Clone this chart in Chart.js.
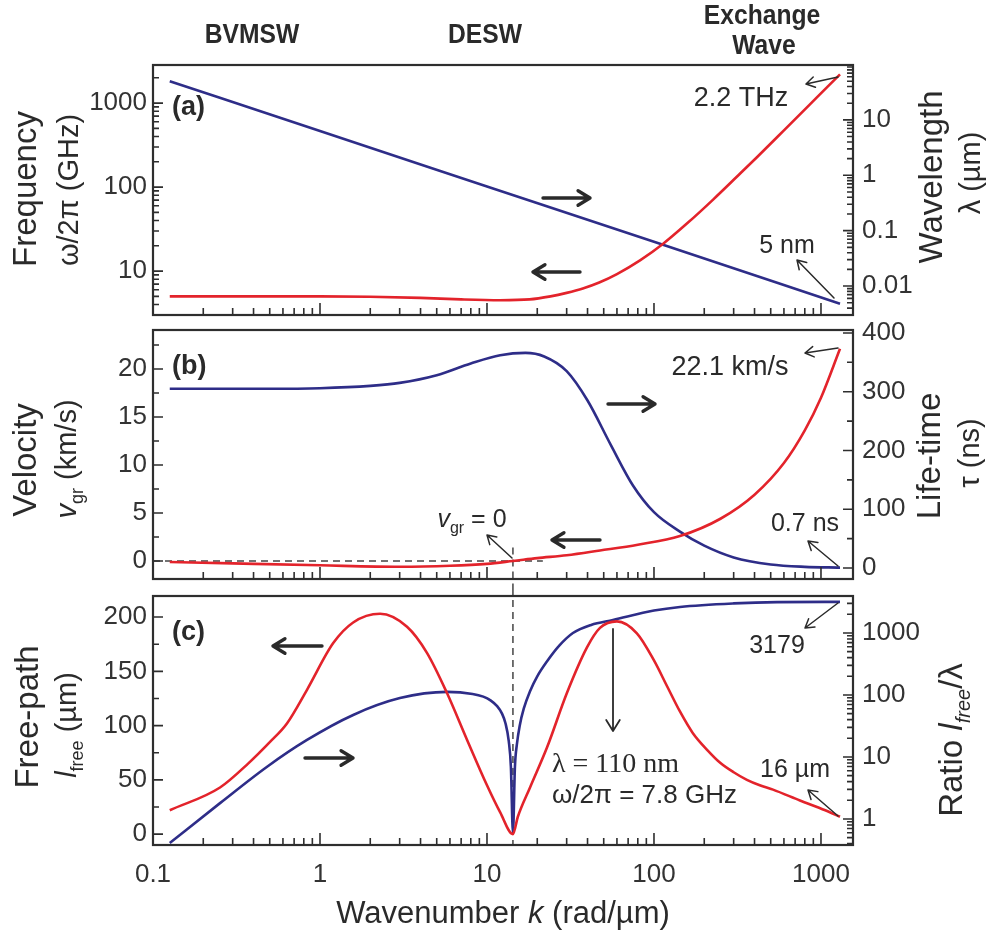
<!DOCTYPE html>
<html>
<head>
<meta charset="utf-8">
<script src="https://cdn.jsdelivr.net/npm/chart.js@4/dist/chart.umd.min.js"></script>
<style>
  body { margin: 0; background: #fff; }
  canvas { position: absolute; left: 0; }
</style>
</head>
<body>
<canvas id="ca" width="990" height="322" style="top:0"></canvas>
<canvas id="cb" width="990" height="266" style="top:322px"></canvas>
<canvas id="cc" width="990" height="346" style="top:588px"></canvas>
<script>
// wavenumber range of the shared x axis (rad/um)
const K_MIN = 0.1, K_MAX = 1555;
const K_ZERO = 14.3; // where v_gr = 0

// (a) frequency w/2pi (GHz) and wavelength (um)
const k_freq = [0.126, 0.3, 0.6, 1, 2, 4, 7, 12, 18, 24, 30, 37.5, 47, 60, 82.5, 113, 158, 226, 328, 412, 600, 850, 1100, 1300];
const freq   = [5.0, 5.0, 5.0, 5.0, 4.95, 4.8, 4.6, 4.5, 4.6, 5.0, 5.5, 6.2, 7.3, 9.2, 13.4, 21, 37, 71, 145, 225, 473, 945, 1580, 2200];
const k_wave = [0.126, 1, 10, 100, 1300];
const wave   = [50, 6.28, 0.628, 0.0628, 0.0048];

// (b) group velocity (km/s) and life-time (ns)
const k_vel = [0.126, 0.3, 1, 3, 6, 10, 14.3, 20, 30, 47.5, 80, 143, 250, 400, 600, 800, 1000, 1300];
const vel   = [-0.1, -0.25, -0.45, -0.6, -0.5, -0.3, 0, 0.3, 0.6, 1.1, 1.7, 2.6, 4.4, 6.9, 10.2, 13.6, 17, 22.1];
const k_life = [0.126, 0.5, 1, 2, 3, 5, 8, 12, 17, 22, 30, 40, 55, 75, 100, 143, 200, 300, 500, 800, 1300];
const life   = [305, 305, 306, 310, 315, 328, 348, 362, 366, 360, 335, 285, 210, 140, 95, 62, 38, 18, 6, 2, 0.7];

// (c) free path (um) and ratio l_free / lambda
const k_path = [0.126, 0.252, 0.371, 0.502, 0.634, 0.836, 1.2, 1.58, 2.29, 3.32, 4.37, 5.76, 7.59, 10, 12, 14.3, 15.3, 18.1, 22.9, 30.1, 39.7, 47.5, 60, 79, 100, 120, 143, 171, 210, 248, 300, 360, 430, 516, 748, 1060, 1300];
const path   = [22, 43, 65, 85, 102, 133, 176, 195, 203, 191, 167, 130, 87, 45, 20, 0, 16, 43, 80, 130, 172, 190, 196, 185, 160, 136, 113, 93, 77, 66, 57, 50, 45, 41, 31, 22, 16];
const k_ratio = [0.126, 0.252, 0.48, 0.836, 1.58, 3.01, 5.76, 8.2, 9.5, 10.5, 11.5, 12.3, 12.9, 13.5, 13.9, 14.3, 14.7, 15.1, 15.7, 16.6, 18.1, 20, 22.9, 27, 32.7, 42, 56.8, 100, 143, 300, 546, 1300];
const ratio   = [0.41, 1.8, 6.9, 18.8, 47.6, 89, 112, 104, 94, 82, 66, 50, 35, 18, 7, 0.6, 7, 16, 32, 60, 115, 200, 350, 620, 1000, 1350, 1620, 2300, 2630, 3000, 3150, 3179];

const RED = '#e3232b';
const BLUE = '#2e2d88';
const INK = '#2a2a2a';
const SANS = '"Liberation Sans", Arial, sans-serif';
const SERIF = '"Liberation Serif", "Times New Roman", serif';

Chart.defaults.font.family = SANS;
Chart.defaults.font.size = 26;
Chart.defaults.color = '#333';

const pts = (ks, vs) => ks.map((k, i) => ({ x: k, y: vs[i] }));

const decadeLabel = v => {
    const e = Math.log10(v);
    return Math.abs(e - Math.round(e)) < 1e-9 ? String(Number(v.toPrecision(2))) : '';
};

const xScale = (labels, h) => ({
    type: 'logarithmic',
    min: K_MIN,
    max: K_MAX,
    grid: { display: false, drawTicks: false },
    border: { display: false },
    ticks: { display: labels, autoSkip: false, maxRotation: 0, padding: 14, callback: decadeLabel },
    afterFit: s => { s.height = h; s.paddingLeft = 0; s.paddingRight = 0; },
});

const yScale = (pos, type, min, max, step) => ({
    type,
    position: pos,
    min,
    max,
    grid: { display: false, drawTicks: false },
    border: { display: false },
    ticks: type === 'linear'
        ? { stepSize: step, includeBounds: false, padding: pos === 'left' ? 6 : 9 }
        : { autoSkip: false, padding: pos === 'left' ? 6 : 9, callback: decadeLabel },
    afterFit: s => { s.width = pos === 'left' ? 153 : 137; s.paddingTop = 0; s.paddingBottom = 0; },
});

const line = (data, color, axis) => ({
    data,
    yAxisID: axis,
    borderColor: color,
    borderWidth: 2.6,
    pointRadius: 0,
    cubicInterpolationMode: 'monotone',
});

const logTicks = (min, max) => {
    const out = [];
    for (let e = Math.floor(Math.log10(min)); e <= Math.ceil(Math.log10(max)); e++) {
        for (let m = 1; m < 10; m++) {
            const v = m * Math.pow(10, e);
            if (v >= min * 0.9999 && v <= max * 1.0001) out.push([v, m === 1]);
        }
    }
    return out;
};

const linTicks = (min, max, step) => {
    const out = [];
    for (let v = Math.ceil(min / step) * step; v <= max + 1e-9; v += step) {
        out.push([v, Math.abs(Math.round(v / (2 * step)) * 2 * step - v) < 1e-6]);
    }
    return out;
};

// frame and inward tick marks
const frame = {
    id: 'frame',
    afterDatasetsDraw(chart, args, opts) {
        const { ctx, chartArea: a, scales } = chart;
        ctx.save();
        ctx.strokeStyle = '#2e2e2e';
        ctx.lineWidth = 1.6;
        ctx.beginPath();
        logTicks(scales.x.min, scales.x.max).forEach(([v, major]) => {
            const px = scales.x.getPixelForValue(v);
            ctx.moveTo(px, a.bottom);
            ctx.lineTo(px, a.bottom - (major ? 12 : 7));
        });
        ['yL', 'yR'].forEach(id => {
            const s = scales[id];
            const list = s.type === 'logarithmic' ? logTicks(s.min, s.max) : linTicks(s.min, s.max, opts[id]);
            list.forEach(([v, major]) => {
                const py = s.getPixelForValue(v);
                const len = major ? 10 : 6;
                if (id === 'yL') { ctx.moveTo(a.left, py); ctx.lineTo(a.left + len, py); }
                else { ctx.moveTo(a.right, py); ctx.lineTo(a.right - len, py); }
            });
        });
        ctx.stroke();
        ctx.lineWidth = 2.2;
        ctx.strokeRect(a.left, a.top, a.right - a.left, a.bottom - a.top);
        ctx.restore();
    },
};

const fontOf = (style, size) => {
    const sub = style.includes('sub');
    const sz = sub ? Math.round(size * 0.62) : size;
    const fam = style.includes('serif') ? SERIF : SANS;
    return (style.includes('it') ? 'italic ' : '') + (style.includes('bold') ? 'bold ' : '') + sz + 'px ' + fam;
};

// text made of styled parts, centred on (x, y) unless align is 'left'
const rich = (ctx, parts, x, y, size, rotate, align, squeeze) => {
    ctx.save();
    ctx.translate(x, y);
    if (rotate) ctx.rotate(-Math.PI / 2);
    if (squeeze) ctx.scale(squeeze, 1);
    const fonts = parts.map(p => fontOf(p[1] || '', size));
    const widths = parts.map((p, i) => { ctx.font = fonts[i]; return ctx.measureText(p[0]).width; });
    const total = widths.reduce((s, w) => s + w, 0);
    let cx = align === 'left' ? 0 : -total / 2;
    ctx.textAlign = 'left';
    ctx.textBaseline = 'alphabetic';
    ctx.fillStyle = INK;
    parts.forEach((p, i) => {
        ctx.font = fonts[i];
        const dy = (p[1] || '').includes('sub') ? size * 0.6 : size * 0.36;
        ctx.fillText(p[0], cx, dy);
        cx += widths[i];
    });
    ctx.restore();
};

const arrow = (ctx, x1, y1, x2, y2, w, head) => {
    const a = Math.atan2(y2 - y1, x2 - x1);
    ctx.save();
    ctx.strokeStyle = INK;
    ctx.lineWidth = w;
    ctx.lineCap = 'round';
    ctx.lineJoin = 'round';
    ctx.beginPath();
    ctx.moveTo(x1, y1);
    ctx.lineTo(x2, y2);
    ctx.moveTo(x2 - head * Math.cos(a - 0.55), y2 - head * Math.sin(a - 0.55));
    ctx.lineTo(x2, y2);
    ctx.lineTo(x2 - head * Math.cos(a + 0.55), y2 - head * Math.sin(a + 0.55));
    ctx.stroke();
    ctx.restore();
};

const dashed = (ctx, x1, y1, x2, y2) => {
    ctx.save();
    ctx.strokeStyle = '#444';
    ctx.lineWidth = 1.5;
    ctx.setLineDash([7, 5]);
    ctx.beginPath();
    ctx.moveTo(x1, y1);
    ctx.lineTo(x2, y2);
    ctx.stroke();
    ctx.restore();
};

// page-coordinate decorations, shifted by the canvas top
const notes = (top, draw) => ({
    id: 'notes',
    afterDraw(chart) {
        const ctx = chart.ctx;
        ctx.save();
        ctx.translate(0, -top);
        draw(ctx, chart);
        ctx.restore();
    },
});

const baseOptions = (scales, minors, padTop) => ({
    responsive: false,
    animation: false,
    events: [],
    layout: { padding: { top: padTop, left: 0, right: 0, bottom: 0 } },
    scales,
    plugins: { legend: { display: false }, tooltip: { enabled: false }, frame: minors },
});

// (a)
new Chart(document.getElementById('ca'), {
    type: 'line',
    data: { datasets: [line(pts(k_freq, freq), RED, 'yL'), line(pts(k_wave, wave), BLUE, 'yR')] },
    options: baseOptions({
        x: xScale(false, 7),
        yL: yScale('left', 'logarithmic', 3.0, 2840),
        yR: yScale('right', 'logarithmic', 0.003, 98),
    }, {}, 65),
    plugins: [frame, notes(0, ctx => {
        rich(ctx, [['BVMSW', 'bold']], 252, 33, 28, false, null, 0.88);
        rich(ctx, [['DESW', 'bold']], 485, 33, 28, false, null, 0.88);
        rich(ctx, [['Exchange', 'bold']], 762, 14, 28, false, null, 0.88);
        rich(ctx, [['Wave', 'bold']], 764, 44, 28, false, null, 0.88);
        rich(ctx, [['(a)', 'bold']], 172, 105, 27, false, 'left');
        rich(ctx, [['Frequency']], 24, 189, 33, true);
        rich(ctx, [['\u03c9/2\u03c0 (GHz)']], 68, 190, 29, true);
        rich(ctx, [['Wavelength']], 930, 177, 33, true);
        rich(ctx, [['\u03bb (\u00b5m)']], 970, 173, 29, true);
        arrow(ctx, 543, 198, 590, 198, 3.4, 14);
        arrow(ctx, 580, 272, 533, 272, 3.4, 14);
        rich(ctx, [['2.2 THz']], 741, 96, 27);
        arrow(ctx, 838, 77, 806, 84, 1.5, 10);
        rich(ctx, [['5 nm']], 787, 244, 25);
        arrow(ctx, 834, 298, 797, 260, 1.5, 10);
    })],
});

// (b)
new Chart(document.getElementById('cb'), {
    type: 'line',
    data: { datasets: [line(pts(k_vel, vel), RED, 'yL'), line(pts(k_life, life), BLUE, 'yR')] },
    options: baseOptions({
        x: xScale(false, 9),
        yL: yScale('left', 'linear', -1.875, 24.06, 5),
        yR: yScale('right', 'linear', -18.7, 405, 100),
    }, { yL: 2.5, yR: 50 }, 8),
    plugins: [{
        id: 'zeroLines',
        beforeDatasetsDraw(chart) {
            const { ctx, scales } = chart;
            const y0 = scales.yL.getPixelForValue(0);
            dashed(ctx, scales.x.getPixelForValue(K_MIN), y0, scales.x.getPixelForValue(21.6), y0);
            const xz = scales.x.getPixelForValue(K_ZERO);
            dashed(ctx, xz, scales.yL.getPixelForValue(1.4), xz, chart.height);
        },
    }, frame, notes(322, ctx => {
        rich(ctx, [['(b)', 'bold']], 172, 364, 27, false, 'left');
        rich(ctx, [['Velocity']], 24, 460, 33, true);
        rich(ctx, [['v', 'it'], ['gr', 'sub'], [' (km/s)']], 66, 459, 29, true);
        rich(ctx, [['Life-time']], 928, 456, 33, true);
        rich(ctx, [['\u03c4 (ns)']], 969, 453, 29, true);
        arrow(ctx, 608, 404, 655, 404, 3.4, 14);
        arrow(ctx, 600, 540, 552, 540, 3.4, 14);
        rich(ctx, [['22.1 km/s']], 730, 365, 27);
        arrow(ctx, 838, 348, 805, 353, 1.5, 10);
        rich(ctx, [['0.7 ns']], 805, 522, 25);
        arrow(ctx, 838, 566, 808, 541, 1.5, 10);
        rich(ctx, [['v', 'it'], ['gr', 'sub'], [' = 0']], 472, 518, 25);
        arrow(ctx, 512, 558, 487, 535, 1.5, 10);
    })],
});

// (c)
new Chart(document.getElementById('cc'), {
    type: 'line',
    data: { datasets: [line(pts(k_path, path), RED, 'yL'), line(pts(k_ratio, ratio), BLUE, 'yR')] },
    options: baseOptions({
        x: xScale(true, 89),
        yL: yScale('left', 'linear', -10, 219.4, 50),
        yR: yScale('right', 'logarithmic', 0.38, 3950),
    }, { yL: 25 }, 8),
    plugins: [{
        id: 'zeroLine',
        beforeDatasetsDraw(chart) {
            const { ctx, scales, chartArea } = chart;
            const xz = scales.x.getPixelForValue(K_ZERO);
            dashed(ctx, xz, 0, xz, chartArea.bottom);
        },
    }, frame, notes(588, ctx => {
        rich(ctx, [['(c)', 'bold']], 172, 630, 27, false, 'left');
        rich(ctx, [['Free-path']], 26, 717, 33, true);
        rich(ctx, [['l', 'it'], ['free', 'sub'], [' (\u00b5m)']], 66, 725, 29, true);
        rich(ctx, [['Ratio '], ['l', 'it'], ['free', 'itsub'], ['/\u03bb']], 950, 740, 33, true);
        rich(ctx, [['Wavenumber '], ['k', 'it'], [' (rad/\u00b5m)']], 503, 912, 31);
        arrow(ctx, 322, 646, 273, 646, 3.4, 14);
        arrow(ctx, 305, 758, 353, 758, 3.4, 14);
        arrow(ctx, 613, 629, 613, 731, 1.8, 13);
        rich(ctx, [['\u03bb = 110 nm', 'serif']], 552, 762, 28, false, 'left');
        rich(ctx, [['\u03c9/2\u03c0 = 7.8 GHz']], 552, 794, 26, false, 'left');
        rich(ctx, [['3179']], 777, 644, 25);
        arrow(ctx, 838, 603, 805, 628, 1.5, 10);
        rich(ctx, [['16 \u00b5m']], 795, 768, 25);
        arrow(ctx, 838, 816, 808, 790, 1.5, 10);
    })],
});
</script>
</body>
</html>
